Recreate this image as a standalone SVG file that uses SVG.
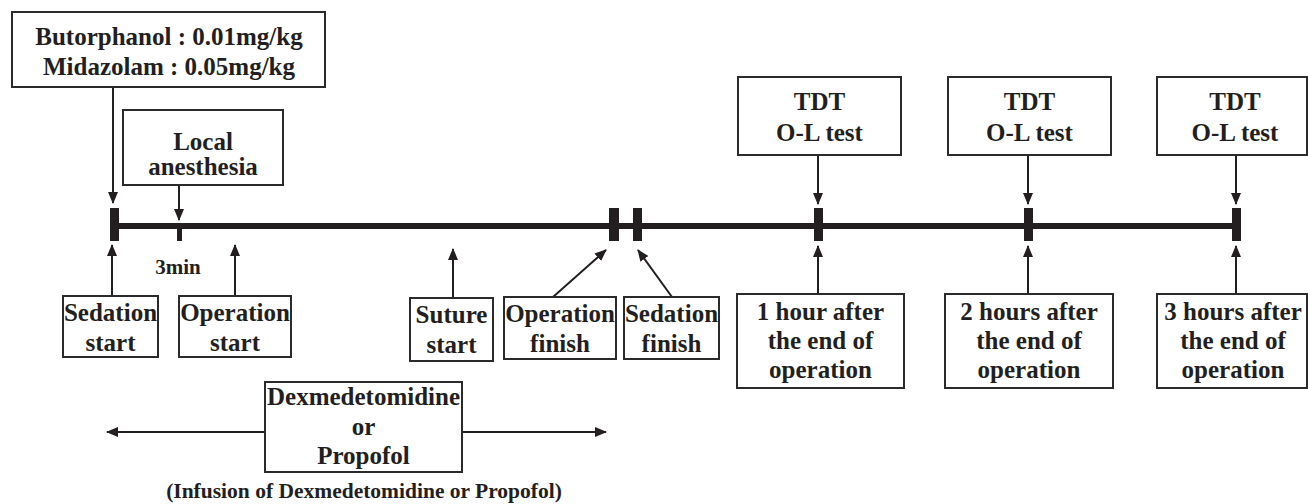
<svg xmlns="http://www.w3.org/2000/svg" width="1308" height="504" viewBox="0 0 1308 504">
<style>
  text { font-family: "Liberation Serif", "Times New Roman", serif; font-weight: bold; fill: #231f20; text-anchor: middle; }
  .t { font-size: 25px; }
  .s { font-size: 21px; }
  .box { fill: #ffffff; stroke: #2b2b2b; stroke-width: 2; }
  .arr { stroke: #231f20; stroke-width: 2; fill: none; marker-end: url(#ah); }
  .tick { fill: #231f20; }
</style>
<defs>
  <marker id="ah" markerUnits="userSpaceOnUse" markerWidth="12" markerHeight="10" refX="11" refY="5" orient="auto">
    <path d="M0,0 L12,5 L0,10 Z" fill="#231f20"/>
  </marker>
</defs>
<rect x="0" y="0" width="1308" height="504" fill="#ffffff"/>

<g id="timeline">
  <line x1="115" y1="226" x2="1237" y2="226" stroke="#231f20" stroke-width="6"/>
  <rect class="tick" x="110" y="208" width="9" height="33"/>
  <rect class="tick" x="177" y="226" width="5" height="15"/>
  <rect class="tick" x="609" y="208" width="10" height="33"/>
  <rect class="tick" x="633" y="208" width="9" height="33"/>
  <rect class="tick" x="814" y="208" width="9" height="33"/>
  <rect class="tick" x="1024" y="208" width="9" height="33"/>
  <rect class="tick" x="1232" y="208" width="9" height="33"/>
  <text class="s" x="178" y="274">3min</text>
</g>

<g id="connectors">
  <line class="arr" x1="113" y1="87" x2="113" y2="203"/>
  <line class="arr" x1="179" y1="185" x2="179" y2="220"/>
  <line class="arr" x1="112" y1="296" x2="112" y2="245"/>
  <line class="arr" x1="235" y1="296" x2="235" y2="245"/>
  <line class="arr" x1="453" y1="298" x2="453" y2="249"/>
  <line class="arr" x1="553" y1="297" x2="606" y2="250"/>
  <line class="arr" x1="672" y1="297" x2="638" y2="250"/>
  <line class="arr" x1="818" y1="155" x2="818" y2="204"/>
  <line class="arr" x1="1028" y1="155" x2="1028" y2="204"/>
  <line class="arr" x1="1236" y1="155" x2="1236" y2="204"/>
  <line class="arr" x1="818" y1="294" x2="818" y2="246"/>
  <line class="arr" x1="1028" y1="294" x2="1028" y2="246"/>
  <line class="arr" x1="1236" y1="294" x2="1236" y2="246"/>
  <line class="arr" x1="265" y1="432" x2="107" y2="432"/>
  <line class="arr" x1="462" y1="432" x2="606" y2="432"/>
</g>

<g id="premed">
  <rect class="box" x="12" y="12" width="313" height="75"/>
  <text class="t" x="169" y="45">Butorphanol : 0.01mg/kg</text>
  <text class="t" x="169" y="75">Midazolam : 0.05mg/kg</text>
</g>

<g id="local">
  <rect class="box" x="123" y="110" width="160" height="75"/>
  <text class="t" x="203" y="150">Local</text>
  <text class="t" x="203" y="175">anesthesia</text>
</g>

<g id="sedation-start">
  <rect class="box" x="63" y="296" width="95" height="61"/>
  <text class="t" x="110.5" y="321">Sedation</text>
  <text class="t" x="110.5" y="351">start</text>
</g>

<g id="operation-start">
  <rect class="box" x="179" y="296" width="112" height="61"/>
  <text class="t" x="235" y="321">Operation</text>
  <text class="t" x="235" y="351">start</text>
</g>

<g id="suture-start">
  <rect class="box" x="410" y="298" width="83" height="63"/>
  <text class="t" x="451.5" y="323">Suture</text>
  <text class="t" x="451.5" y="353">start</text>
</g>

<g id="operation-finish">
  <rect class="box" x="504" y="297" width="112" height="62"/>
  <text class="t" x="560" y="322">Operation</text>
  <text class="t" x="560" y="352">finish</text>
</g>

<g id="sedation-finish">
  <rect class="box" x="624" y="297" width="95" height="62"/>
  <text class="t" x="671.5" y="322">Sedation</text>
  <text class="t" x="671.5" y="352">finish</text>
</g>

<g id="tdt1">
  <rect class="box" x="738" y="77" width="163" height="78"/>
  <text class="t" x="819.5" y="110">TDT</text>
  <text class="t" x="819.5" y="141">O-L test</text>
</g>

<g id="tdt2">
  <rect class="box" x="948" y="77" width="163" height="78"/>
  <text class="t" x="1029.5" y="110">TDT</text>
  <text class="t" x="1029.5" y="141">O-L test</text>
</g>

<g id="tdt3">
  <rect class="box" x="1157" y="77" width="150" height="78"/>
  <text class="t" x="1235" y="110">TDT</text>
  <text class="t" x="1235" y="141">O-L test</text>
</g>

<g id="after1">
  <rect class="box" x="737" y="294" width="167" height="94"/>
  <text class="t" x="820.5" y="320">1 hour after</text>
  <text class="t" x="820.5" y="349">the end of</text>
  <text class="t" x="820.5" y="378">operation</text>
</g>

<g id="after2">
  <rect class="box" x="945" y="294" width="168" height="94"/>
  <text class="t" x="1029" y="320">2 hours after</text>
  <text class="t" x="1029" y="349">the end of</text>
  <text class="t" x="1029" y="378">operation</text>
</g>

<g id="after3">
  <rect class="box" x="1157" y="294" width="150" height="94"/>
  <text class="t" x="1233" y="320">3 hours after</text>
  <text class="t" x="1233" y="349">the end of</text>
  <text class="t" x="1233" y="378">operation</text>
</g>

<g id="infusion">
  <rect class="box" x="265" y="382" width="197" height="90"/>
  <text class="t" x="363.5" y="405">Dexmedetomidine</text>
  <text class="t" x="363.5" y="435">or</text>
  <text class="t" x="363.5" y="464">Propofol</text>
  <text style="font-size:21.5px" x="364" y="498">(Infusion of Dexmedetomidine or Propofol)</text>
</g>
</svg>
